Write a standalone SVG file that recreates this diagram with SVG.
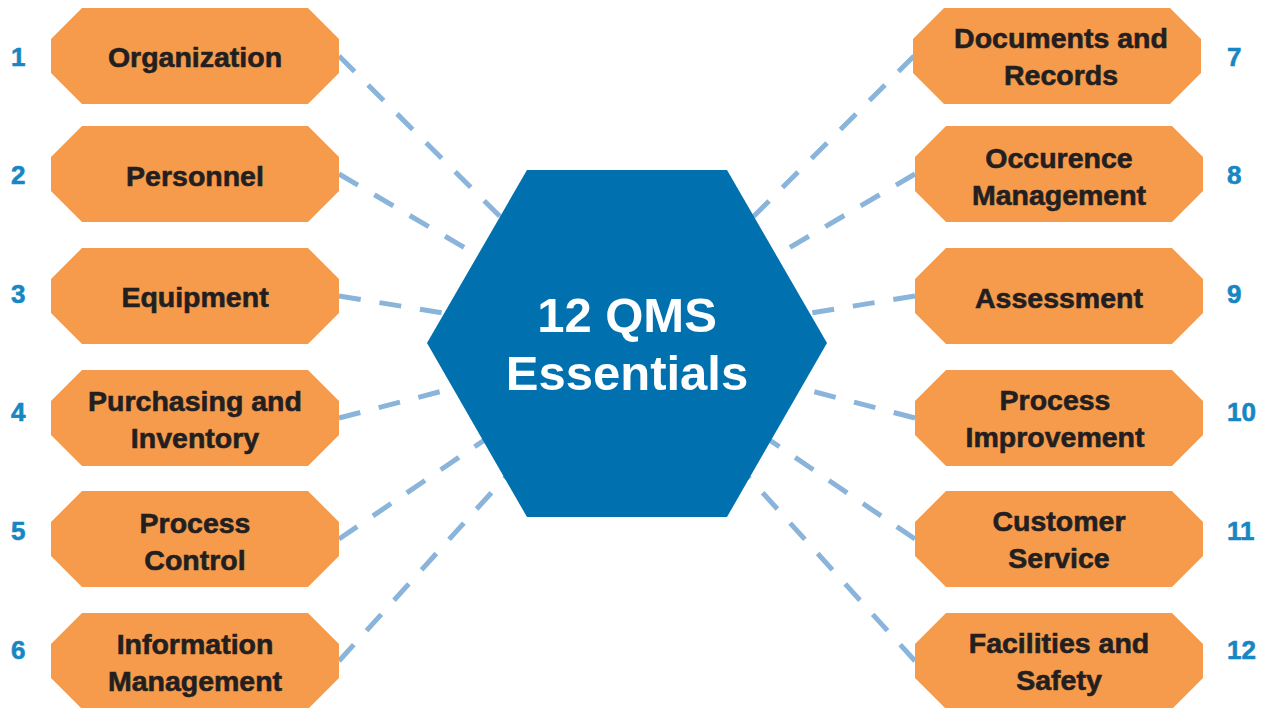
<svg xmlns="http://www.w3.org/2000/svg" width="1265" height="708" viewBox="0 0 1265 708">
<defs>
<style>
.node{fill:#F59B4B;}
.lbl{font-family:"Liberation Sans",Arial,sans-serif;font-weight:bold;font-size:28.5px;fill:#231F20;stroke:#231F20;stroke-width:0.6px;text-anchor:middle;}
.num{font-family:"Liberation Sans",Arial,sans-serif;font-weight:bold;font-size:26px;fill:#1787C3;stroke:#1787C3;stroke-width:0.6px;}
.con{stroke:#8AB4DA;stroke-width:5;stroke-dasharray:22 19;fill:none;}
.hub{fill:#0071AE;}
.hubt{font-family:"Liberation Sans",Arial,sans-serif;font-weight:bold;font-size:49px;fill:#FFFFFF;text-anchor:middle;}
</style>
<polygon id="oct" points="31,0 257,0 288,31 288,65 257,96 31,96 0,65 0,31"/>
</defs>
<rect width="1265" height="708" fill="#FFFFFF"/>
<g id="connectors">
<line class="con" x1="339" y1="56" x2="627" y2="343"/>
<line class="con" x1="339" y1="174" x2="627" y2="343"/>
<line class="con" x1="339" y1="296" x2="627" y2="343"/>
<line class="con" x1="339" y1="418" x2="627" y2="343"/>
<line class="con" x1="339" y1="539" x2="627" y2="343"/>
<line class="con" x1="339" y1="661" x2="627" y2="343"/>
<line class="con" x1="914" y1="56" x2="627" y2="343"/>
<line class="con" x1="915" y1="174" x2="627" y2="343"/>
<line class="con" x1="915" y1="296" x2="627" y2="343"/>
<line class="con" x1="915" y1="418" x2="627" y2="343"/>
<line class="con" x1="915" y1="539" x2="627" y2="343"/>
<line class="con" x1="915" y1="661" x2="627" y2="343"/>
</g>
<g id="hub">
<polygon class="hub" points="527,170 727,170 827,343 727,517 527,517 427,343"/>
<text class="hubt" x="627" y="332">12 QMS</text>
<text class="hubt" x="627" y="390">Essentials</text>
</g>
<g id="n1"><use href="#oct" class="node" x="51" y="8"/><text class="lbl" x="195" y="67">Organization</text><text class="num" x="11" y="66">1</text></g>
<g id="n2"><use href="#oct" class="node" x="51" y="126"/><text class="lbl" x="195" y="186">Personnel</text><text class="num" x="11" y="184">2</text></g>
<g id="n3"><use href="#oct" class="node" x="51" y="248"/><text class="lbl" x="195" y="307">Equipment</text><text class="num" x="11" y="303">3</text></g>
<g id="n4"><use href="#oct" class="node" x="51" y="370"/><text class="lbl" x="195" y="411">Purchasing and</text><text class="lbl" x="195" y="448">Inventory</text><text class="num" x="11" y="421">4</text></g>
<g id="n5"><use href="#oct" class="node" x="51" y="491"/><text class="lbl" x="195" y="533">Process</text><text class="lbl" x="195" y="570">Control</text><text class="num" x="11" y="540">5</text></g>
<g id="n6"><use href="#oct" class="node" x="51" y="613"/><text class="lbl" x="195" y="654">Information</text><text class="lbl" x="195" y="691">Management</text><text class="num" x="11" y="659">6</text></g>
<g id="n7"><use href="#oct" class="node" x="913" y="8"/><text class="lbl" x="1061" y="48">Documents and</text><text class="lbl" x="1061" y="85">Records</text><text class="num" x="1227" y="66">7</text></g>
<g id="n8"><use href="#oct" class="node" x="915" y="126"/><text class="lbl" x="1059" y="168">Occurence</text><text class="lbl" x="1059" y="205">Management</text><text class="num" x="1227" y="184">8</text></g>
<g id="n9"><use href="#oct" class="node" x="915" y="248"/><text class="lbl" x="1059" y="308">Assessment</text><text class="num" x="1227" y="303">9</text></g>
<g id="n10"><use href="#oct" class="node" x="915" y="370"/><text class="lbl" x="1055" y="410">Process</text><text class="lbl" x="1055" y="447">Improvement</text><text class="num" x="1227" y="421">10</text></g>
<g id="n11"><use href="#oct" class="node" x="915" y="491"/><text class="lbl" x="1059" y="531">Customer</text><text class="lbl" x="1059" y="568">Service</text><text class="num" x="1227" y="540">11</text></g>
<g id="n12"><use href="#oct" class="node" x="915" y="613"/><text class="lbl" x="1059" y="653">Facilities and</text><text class="lbl" x="1059" y="690">Safety</text><text class="num" x="1227" y="659">12</text></g>
</svg>
